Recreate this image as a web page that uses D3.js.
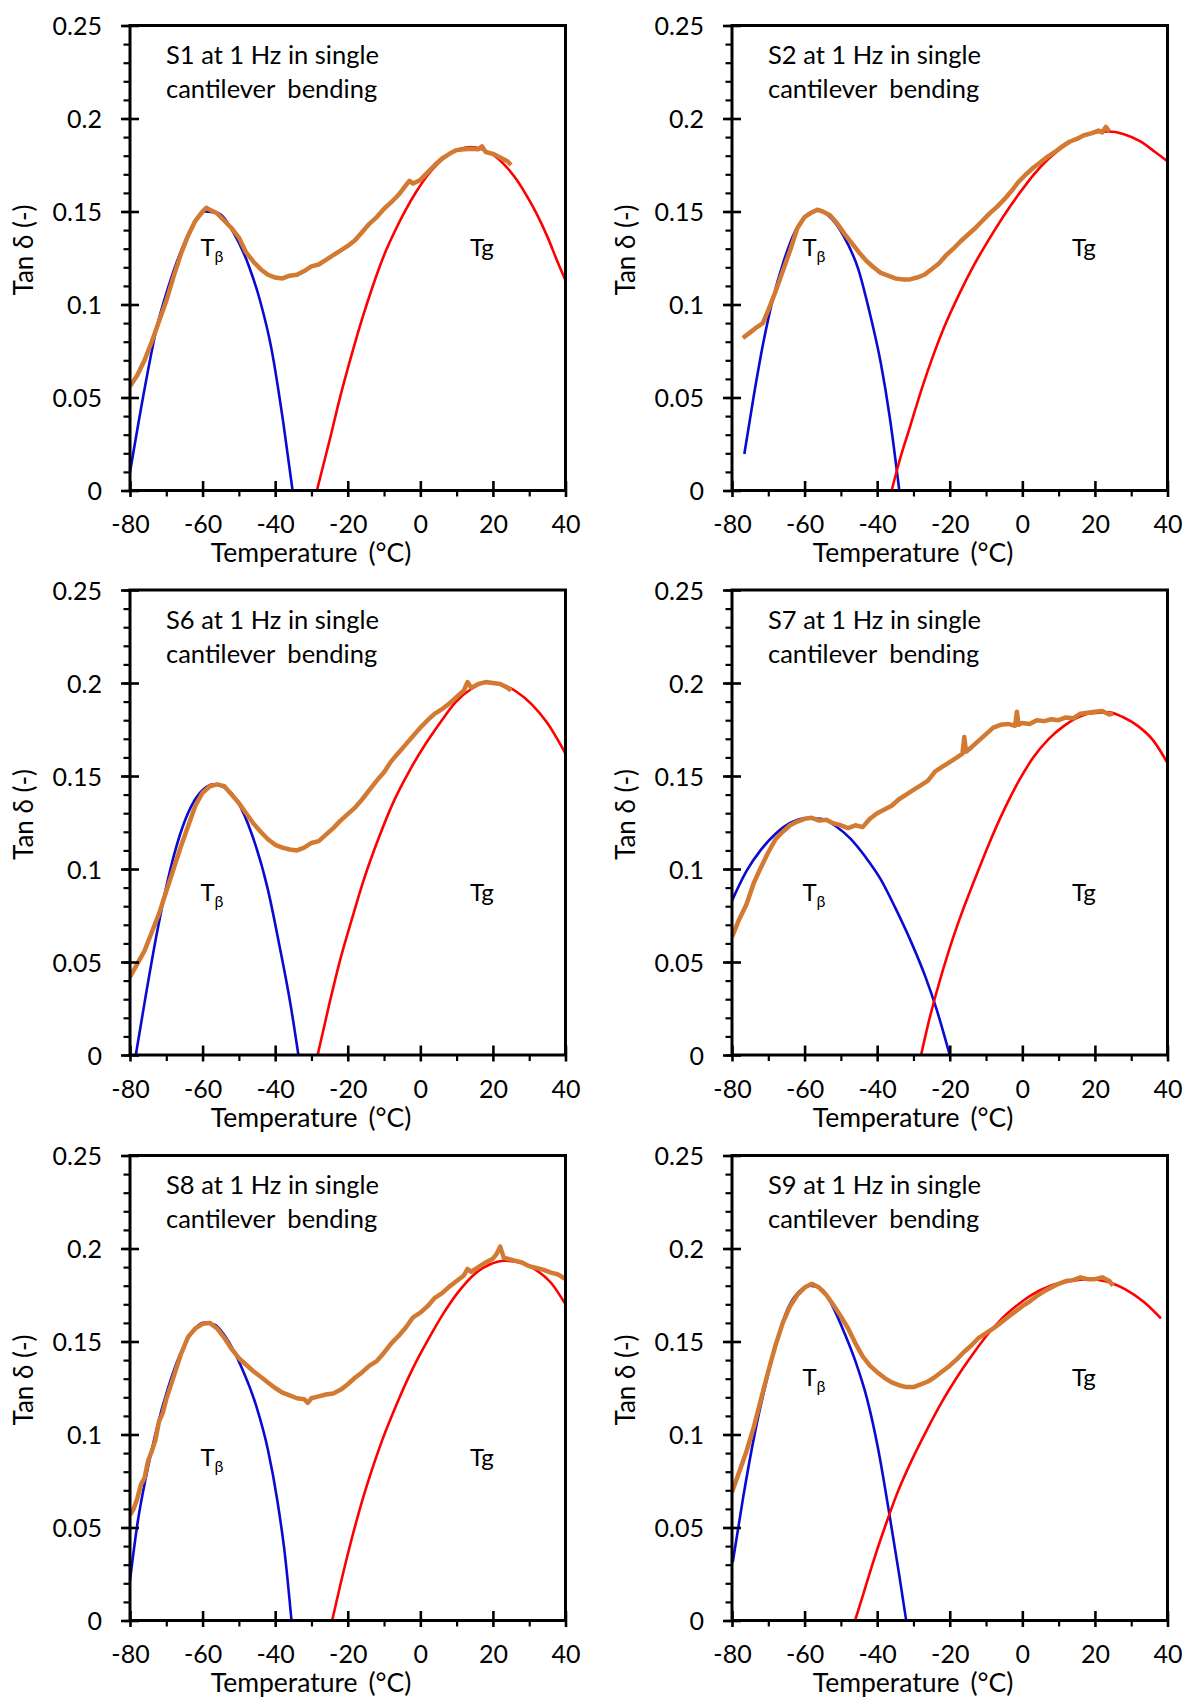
<!DOCTYPE html>
<html>
<head>
<meta charset="utf-8">
<script src="https://cdn.jsdelivr.net/npm/d3@7"></script>
<style>
  body { margin: 0; background: #fff; }
  svg { display: block; font-family: Lato, "Open Sans", sans-serif; }
</style>
</head>
<body>
<svg id="chart"></svg>
<script>
// Measured tan delta (orange) and the two peak fits (blue = T_beta, red = Tg), per sample
const sampleNames = ["S1", "S2", "S6", "S7", "S8", "S9"];
const xTicks = [-80, -60, -40, -20, 0, 20, 40];
const yTicks = [0, 0.05, 0.1, 0.15, 0.2, 0.25];

const s1Measured = [[-80,0.056],[-78,0.062],[-76,0.070],[-74,0.080],[-72,0.091],[-70,0.102],[-68,0.115],[-66,0.127],[-64,0.137],[-62,0.145],[-60,0.150],[-59,0.152],[-58,0.151],[-56,0.149],[-54,0.145],[-52,0.141],[-50,0.136],[-48,0.128],[-46,0.123],[-44,0.119],[-42,0.116],[-40,0.1145],[-38,0.114],[-36,0.1155],[-34,0.116],[-32,0.118],[-30,0.1205],[-28,0.1215],[-26,0.124],[-24,0.1265],[-22,0.129],[-20,0.1315],[-18,0.1345],[-16,0.139],[-14,0.1435],[-12,0.147],[-10,0.1515],[-8,0.155],[-6,0.159],[-4,0.164],[-3,0.1665],[-2,0.165],[0,0.167],[2,0.171],[4,0.175],[6,0.1785],[8,0.181],[10,0.183],[12,0.1835],[14,0.1838],[16,0.1835],[17,0.185],[18,0.182],[20,0.181],[22,0.179],[24,0.177],[25,0.175]];
const s1BetaFit = [[-80,0.0098],[-75.8,0.0566],[-72.6,0.0879],[-69.5,0.109],[-66.3,0.127],[-63.1,0.1406],[-59.4,0.150],[-55.7,0.149],[-51.5,0.1387],[-47.3,0.121],[-44.1,0.1016],[-41,0.076],[-37.8,0.037],[-35.2,0]];
const s1GlassFit = [[-28.5,0],[-25,0.027],[-22,0.051],[-19,0.0725],[-16,0.0925],[-13,0.1105],[-10,0.1265],[-7,0.1395],[-4,0.151],[-1,0.161],[2,0.1695],[5,0.176],[8,0.181],[11,0.1838],[14,0.1846],[17,0.1835],[20,0.1805],[23,0.1755],[26,0.1685],[29,0.1595],[32,0.149],[35,0.1365],[38,0.122],[40,0.113]];

const s2Measured = [[-77,0.082],[-75,0.085],[-73,0.088],[-71.5,0.090],[-70,0.097],[-68,0.107],[-66,0.118],[-64,0.129],[-62,0.141],[-60,0.147],[-58,0.1495],[-56.5,0.151],[-55,0.150],[-53,0.148],[-51,0.1435],[-49,0.138],[-47,0.133],[-45,0.128],[-43,0.1235],[-41,0.120],[-39,0.117],[-37,0.1155],[-35,0.114],[-33,0.1135],[-31,0.1135],[-29,0.1145],[-27,0.116],[-25,0.119],[-23,0.122],[-21,0.1265],[-19,0.130],[-17,0.134],[-15,0.1375],[-13,0.141],[-11,0.145],[-9,0.149],[-7,0.1525],[-5,0.1565],[-3,0.161],[-1,0.166],[1,0.170],[3,0.1735],[5,0.1765],[7,0.1795],[9,0.182],[11,0.185],[13,0.1875],[15,0.189],[17,0.191],[19,0.192],[21,0.1935],[22,0.1925],[23,0.1955],[24,0.193]];
const s2BetaFit = [[-76.6,0.0196],[-74,0.0509],[-71.5,0.0782],[-68.9,0.1017],[-65.8,0.123],[-62.7,0.139],[-59.6,0.1477],[-56.5,0.1506],[-53.4,0.1477],[-49.3,0.137],[-45.2,0.119],[-42.1,0.0959],[-39,0.0685],[-36.5,0.039],[-33.9,0]];
const s2GlassFit = [[-36,0],[-33.9,0.0156],[-30.8,0.0352],[-27.7,0.0548],[-24.6,0.0724],[-21.5,0.088],[-17.4,0.1056],[-13.3,0.1213],[-9.2,0.135],[-5.1,0.1477],[-0.9,0.1595],[3.2,0.170],[7.3,0.1785],[12.5,0.1865],[17.6,0.1913],[23.7,0.193],[27.8,0.1917],[32.4,0.1878],[36.6,0.182],[40,0.177]];

const s6Measured = [[-80,0.042],[-78,0.049],[-76,0.056],[-74,0.066],[-72,0.076],[-70,0.088],[-68,0.100],[-66,0.112],[-64,0.123],[-62,0.134],[-60,0.141],[-58,0.1445],[-56,0.1455],[-54,0.1445],[-52,0.140],[-50,0.1355],[-48,0.130],[-46,0.1245],[-44,0.120],[-42,0.116],[-40,0.113],[-38,0.1115],[-36,0.1105],[-34,0.110],[-32,0.1115],[-30,0.114],[-28,0.115],[-26,0.1185],[-24,0.122],[-22,0.126],[-20,0.1295],[-18,0.133],[-16,0.1375],[-14,0.1425],[-12,0.1475],[-10,0.152],[-8,0.158],[-6,0.1625],[-4,0.167],[-2,0.1715],[0,0.176],[2,0.180],[4,0.1835],[6,0.186],[8,0.189],[10,0.1925],[12,0.196],[13,0.2005],[14,0.1975],[16,0.1995],[18,0.2005],[20,0.200],[22,0.1995],[24,0.1975],[25,0.196]];
const s6BetaFit = [[-78.4,0],[-75.8,0.0303],[-72.6,0.0654],[-69.5,0.0947],[-66.3,0.118],[-63.1,0.1338],[-59.9,0.1426],[-56.8,0.1455],[-53.6,0.1435],[-50.5,0.1367],[-46.3,0.118],[-42,0.0889],[-38.9,0.0596],[-35.7,0.0264],[-33.6,0]];
const s6GlassFit = [[-28.3,0],[-25.2,0.0264],[-22,0.0518],[-18.8,0.0735],[-15.7,0.0935],[-11.5,0.1165],[-7.3,0.1365],[-3,0.1528],[1.2,0.1665],[5.4,0.1785],[9.6,0.1895],[13.8,0.1965],[18.1,0.2002],[22.3,0.1992],[26.5,0.1953],[30.7,0.1885],[34.9,0.1787],[40,0.162]];

const s7Measured = [[-80,0.0635],[-78,0.073],[-76,0.081],[-74,0.0925],[-72,0.101],[-70,0.109],[-68,0.116],[-66,0.120],[-64,0.1235],[-62,0.1255],[-60,0.127],[-58,0.1275],[-56,0.126],[-54,0.1265],[-52,0.1245],[-50,0.1235],[-48,0.122],[-46,0.1235],[-44,0.1225],[-42,0.127],[-40,0.130],[-38,0.132],[-36,0.134],[-34,0.1375],[-32,0.140],[-30,0.1425],[-28,0.145],[-26,0.1475],[-24,0.1525],[-22,0.155],[-20,0.1575],[-18,0.160],[-16.5,0.162],[-16,0.171],[-15.5,0.163],[-14,0.1655],[-12,0.169],[-10,0.1725],[-8,0.176],[-6,0.1775],[-4,0.178],[-2,0.177],[-1.5,0.1845],[-1,0.1775],[0,0.1785],[2,0.178],[4,0.180],[6,0.1795],[8,0.1805],[10,0.180],[12,0.1815],[14,0.181],[16,0.1835],[18,0.184],[20,0.1845],[22,0.185],[24,0.183],[25,0.1835]];
const s7BetaFit = [[-80,0.083],[-76.1,0.0986],[-72,0.1104],[-67.9,0.1191],[-63.7,0.125],[-59.6,0.1273],[-55.5,0.127],[-51.4,0.123],[-47.3,0.1162],[-43.2,0.1064],[-39.1,0.0947],[-35,0.0791],[-30.8,0.0615],[-26.7,0.042],[-23.6,0.0244],[-20,0]];
const s7GlassFit = [[-27.9,0],[-25.7,0.0186],[-23.1,0.0375],[-20.5,0.0545],[-17.4,0.0725],[-13.3,0.0935],[-9.2,0.1135],[-5.1,0.1315],[-1,0.1472],[3.1,0.1602],[7.3,0.170],[11.4,0.1768],[14.5,0.1807],[18.6,0.1836],[23.7,0.1842],[27.8,0.1816],[31.9,0.1768],[36.1,0.169],[40,0.157]];

const s8Measured = [[-80,0.0566],[-79,0.060],[-78,0.0655],[-77,0.073],[-76,0.0765],[-75,0.086],[-74,0.091],[-73,0.097],[-72,0.107],[-71,0.1115],[-70,0.119],[-68,0.131],[-66,0.143],[-64,0.1525],[-62,0.157],[-60,0.1595],[-58,0.160],[-56,0.157],[-54,0.152],[-52,0.146],[-50,0.141],[-48,0.1375],[-46,0.134],[-44,0.131],[-42,0.128],[-40,0.125],[-38,0.1225],[-36,0.121],[-34,0.1195],[-32,0.119],[-31,0.117],[-30,0.1195],[-28,0.1205],[-26,0.1215],[-24,0.122],[-22,0.124],[-20,0.127],[-18,0.1305],[-16,0.1335],[-14,0.137],[-12,0.1395],[-10,0.144],[-8,0.149],[-6,0.153],[-4,0.1575],[-2,0.163],[0,0.1655],[2,0.169],[4,0.1735],[6,0.176],[8,0.1795],[10,0.1825],[12,0.1855],[13,0.189],[14,0.1875],[16,0.190],[18,0.1925],[20,0.1945],[21,0.197],[22,0.201],[23,0.195],[24,0.1945],[26,0.1935],[28,0.1925],[30,0.1905],[32,0.1895],[34,0.1885],[36,0.187],[38,0.186],[40,0.1835]];
const s8BetaFit = [[-80,0.0215],[-77.9,0.0527],[-75.3,0.080],[-72.6,0.1035],[-69.5,0.125],[-66.3,0.1426],[-63.1,0.1543],[-59.9,0.160],[-56.8,0.1592],[-53.6,0.1523],[-49.4,0.1367],[-45.2,0.1152],[-42,0.0918],[-39.4,0.0645],[-37.3,0.0352],[-35.5,0]];
const s8GlassFit = [[-24.3,0],[-22,0.0195],[-19.4,0.0402],[-16.7,0.0598],[-13.6,0.0795],[-10.4,0.0975],[-6.2,0.1178],[-2,0.1358],[2.3,0.1515],[6.5,0.1655],[10.7,0.1772],[14.9,0.1862],[19.1,0.1914],[23.3,0.1934],[27.6,0.1924],[31.8,0.1885],[36,0.1816],[40,0.170]];

const s9Measured = [[-80,0.069],[-78,0.080],[-76,0.091],[-74,0.104],[-72,0.119],[-70,0.134],[-68,0.148],[-66,0.160],[-64,0.169],[-62,0.175],[-60,0.179],[-58,0.181],[-56,0.179],[-54,0.175],[-52,0.1695],[-50,0.1635],[-48,0.157],[-46,0.149],[-44,0.142],[-42,0.137],[-40,0.1335],[-38,0.1305],[-36,0.128],[-34,0.1265],[-32,0.1255],[-30,0.1255],[-28,0.127],[-26,0.1285],[-24,0.131],[-22,0.134],[-20,0.137],[-18,0.1405],[-16,0.1445],[-14,0.148],[-12,0.152],[-10,0.1545],[-8,0.157],[-6,0.160],[-4,0.163],[-2,0.166],[0,0.169],[2,0.1715],[4,0.1745],[6,0.177],[8,0.179],[10,0.181],[12,0.1825],[14,0.183],[16,0.1845],[18,0.1835],[20,0.1835],[22,0.1845],[24,0.1825],[25,0.180]];
const s9BetaFit = [[-79.8,0.0313],[-76.9,0.0665],[-73.8,0.0998],[-70.7,0.1272],[-67.6,0.1506],[-64.5,0.1682],[-61.4,0.177],[-58.3,0.18],[-55.2,0.178],[-52.1,0.1682],[-49,0.1545],[-45.9,0.1389],[-42.8,0.1193],[-39.7,0.0919],[-36.6,0.0567],[-34,0.0254],[-32,0]];
const s9GlassFit = [[-46.1,0],[-43.9,0.0137],[-40.8,0.0333],[-37.7,0.0512],[-34.6,0.0678],[-30.4,0.0865],[-26.3,0.1025],[-22.2,0.1174],[-18.1,0.1305],[-14,0.1422],[-9.8,0.1532],[-5.7,0.1622],[-1.6,0.1692],[2.6,0.1751],[7.8,0.18],[12.9,0.1823],[18.1,0.1835],[23.2,0.1823],[28.4,0.178],[33.5,0.1712],[38.2,0.1624]];

// label heights (tan delta units) of the T_beta / Tg annotations
const peakLabelLevel = [0.126, 0.126, 0.083, 0.083, 0.083, 0.126];

const panels = [
  { name: sampleNames[0], measured: s1Measured, beta: s1BetaFit, glass: s1GlassFit, labelY: peakLabelLevel[0] },
  { name: sampleNames[1], measured: s2Measured, beta: s2BetaFit, glass: s2GlassFit, labelY: peakLabelLevel[1] },
  { name: sampleNames[2], measured: s6Measured, beta: s6BetaFit, glass: s6GlassFit, labelY: peakLabelLevel[2] },
  { name: sampleNames[3], measured: s7Measured, beta: s7BetaFit, glass: s7GlassFit, labelY: peakLabelLevel[3] },
  { name: sampleNames[4], measured: s8Measured, beta: s8BetaFit, glass: s8GlassFit, labelY: peakLabelLevel[4] },
  { name: sampleNames[5], measured: s9Measured, beta: s9BetaFit, glass: s9GlassFit, labelY: peakLabelLevel[5] }
];

// Layout
const size = { width: 1187, height: 1698 };
const plotW = 435.5, plotH = 465;
const colLeft = [130, 732];
const rowTop = [25.5, 590, 1155.5];

const svg = d3.select("#chart")
  .attr("width", size.width)
  .attr("height", size.height);

const xScale = d3.scaleLinear().domain([-80, 40]).range([0, plotW]);
const yScale = d3.scaleLinear().domain([0, 0.25]).range([plotH, 0]);

const line = d3.line()
  .x(d => xScale(d[0]))
  .y(d => yScale(d[1]));
const smoothLine = d3.line()
  .x(d => xScale(d[0]))
  .y(d => yScale(d[1]))
  .curve(d3.curveMonotoneX);

panels.forEach((p, i) => {
  const left = colLeft[i % 2];
  const top = rowTop[Math.floor(i / 2)];
  const g = svg.append("g").attr("transform", `translate(${left}, ${top})`);

  // clip for the curves
  g.append("clipPath").attr("id", `clip${i}`)
    .append("rect").attr("width", plotW).attr("height", plotH);

  const curves = g.append("g").attr("clip-path", `url(#clip${i})`);

  curves.append("path")
    .datum(p.beta)
    .attr("d", smoothLine)
    .attr("fill", "none")
    .attr("stroke", "#0a0ad2")
    .attr("stroke-width", 2.6);

  curves.append("path")
    .datum(p.glass)
    .attr("d", smoothLine)
    .attr("fill", "none")
    .attr("stroke", "#ff0000")
    .attr("stroke-width", 2.6);

  curves.append("path")
    .datum(p.measured)
    .attr("d", line)
    .attr("fill", "none")
    .attr("stroke", "#d37a32")
    .attr("stroke-width", 4.5)
    .attr("stroke-linejoin", "round");

  // minor ticks (outside only)
  g.append("g")
    .call(d3.axisLeft(yScale).tickValues(d3.range(0, 0.2501, 0.01)).tickSize(6.5).tickFormat(""))
    .call(a => a.select(".domain").remove())
    .call(a => a.selectAll("line").attr("stroke", "#000").attr("stroke-width", 2.2));
  g.append("g")
    .attr("transform", `translate(0, ${ plotH })`)
    .call(d3.axisBottom(xScale).tickValues(d3.range(-70, 40, 20)).tickSize(6).tickFormat(""))
    .call(a => a.select(".domain").remove())
    .call(a => a.selectAll("line").attr("stroke", "#000").attr("stroke-width", 2.2));

  // Y axis with crossing major ticks
  const yAxis = g.append("g")
    .call(d3.axisLeft(yScale).tickValues(yTicks).tickFormat(d => String(d)));
  yAxis.select(".domain").remove();
  yAxis.selectAll(".tick line")
    .attr("x1", 9).attr("x2", -9)
    .attr("stroke", "#000").attr("stroke-width", 2.6);
  yAxis.selectAll(".tick text")
    .attr("x", -28)
    .attr("dy", "0.36em")
    .attr("font-size", 25)
    .attr("font-family", "Lato, sans-serif")
    .attr("fill", "#000");

  // X axis with crossing major ticks
  const xAxis = g.append("g")
    .attr("transform", `translate(0, ${ plotH })`)
    .call(d3.axisBottom(xScale).tickValues(xTicks).tickFormat(d => String(d)));
  xAxis.select(".domain").remove();
  xAxis.selectAll(".tick line")
    .attr("y1", -9.5).attr("y2", 6.5)
    .attr("stroke", "#000").attr("stroke-width", 2.6);
  xAxis.selectAll(".tick text")
    .attr("y", 42.5)
    .attr("dy", 0)
    .attr("font-size", 25)
    .attr("font-family", "Lato, sans-serif")
    .attr("fill", "#000");

  // plot frame
  g.append("rect")
    .attr("width", plotW)
    .attr("height", plotH)
    .attr("fill", "none")
    .attr("stroke", "#000")
    .attr("stroke-width", 3);

  // sample caption
  const caption = g.append("text")
    .attr("x", 36)
    .attr("font-size", 25.5)
    .attr("fill", "#000");
  caption.append("tspan").attr("x", 36).attr("y", 38.5).text(`${ p.name } at 1 Hz in single`);
  caption.append("tspan").attr("x", 36).attr("y", 72.5)
    .attr("word-spacing", 6)
    .text("cantilever bending");

  // peak annotations
  const tb = g.append("text")
    .attr("x", xScale(-60.6))
    .attr("y", yScale(p.labelY))
    .attr("font-size", 24)
    .attr("fill", "#000")
    .text("T");
  tb.append("tspan")
    .attr("font-size", 16)
    .attr("dy", 6)
    .text("β");

  g.append("text")
    .attr("x", xScale(13.7))
    .attr("y", yScale(p.labelY))
    .attr("font-size", 24)
    .attr("fill", "#000")
    .text("Tg");

  // axis titles
  g.append("text")
    .attr("transform", `translate(-106, 224.5) rotate(-90)`)
    .attr("text-anchor", "middle")
    .attr("dy", "0.35em")
    .attr("font-size", 26)
    .attr("fill", "#000")
    .text("Tan δ (-)");

  g.append("text")
    .attr("x", 181)
    .attr("y", plotH + 71.5)
    .attr("text-anchor", "middle")
    .attr("font-size", 26.5)
    .attr("word-spacing", 4)
    .attr("fill", "#000")
    .text("Temperature (°C)");
});
</script>
</body>
</html>
